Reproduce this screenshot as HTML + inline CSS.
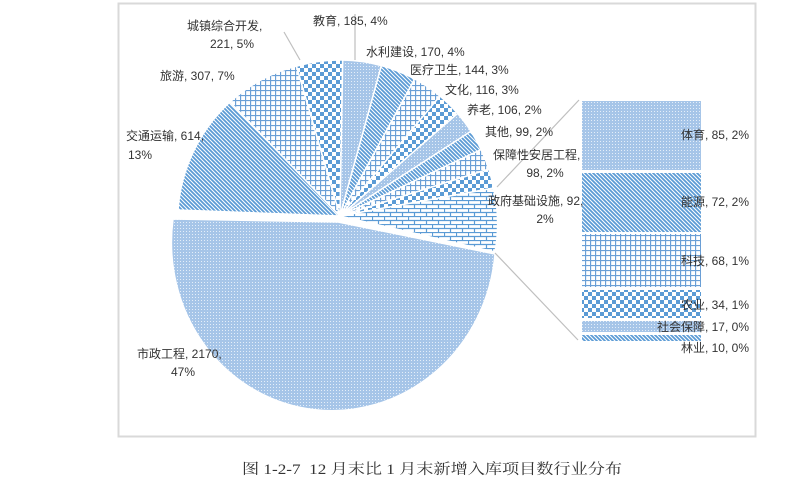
<!DOCTYPE html>
<html><head><meta charset="utf-8"><style>
html,body{margin:0;padding:0;background:#fff;}
svg{display:block;}
text{font-family:"Liberation Sans","Noto Sans CJK SC",sans-serif;font-size:12px;fill:#333;}
</style></head><body>
<svg width="803" height="488" viewBox="0 0 803 488" xmlns="http://www.w3.org/2000/svg">
<defs>
<pattern id="dots" width="3" height="3" patternUnits="userSpaceOnUse"><rect width="3" height="3" fill="#a6c5e8"/><rect width="1" height="1" fill="#e4eef9"/></pattern>
<pattern id="stripe" width="4" height="4" patternUnits="userSpaceOnUse"><rect width="4" height="4" fill="#fff"/><path d="M-1,-1 L5,5 M-1,3 L1,5 M3,-1 L5,1" stroke="#5b9bd5" stroke-width="1.8"/></pattern>
<pattern id="grid" width="5" height="5" patternUnits="userSpaceOnUse"><rect width="5" height="5" fill="#fff"/><path d="M0,0.5H5M0.5,0V5" stroke="#6a9fd6" stroke-width="1.3"/></pattern>
<pattern id="check" width="8" height="8" patternUnits="userSpaceOnUse"><rect width="8" height="8" fill="#fff"/><rect width="4" height="4" fill="#5b9bd5"/><rect x="4" y="4" width="4" height="4" fill="#5b9bd5"/></pattern>
<pattern id="brick" width="12" height="8" patternUnits="userSpaceOnUse"><rect width="12" height="8" fill="#fff"/><path d="M0,0.5H12M0,4.5H12M0.5,0V4M6.5,4V8" stroke="#5b9bd5" stroke-width="1.2"/></pattern>
</defs>
<rect x="118.5" y="3.5" width="637" height="433" fill="#fff" stroke="#d9d9d9" stroke-width="2"/>
<g stroke="#fff" stroke-width="1.5">
<path d="M338,222 L495,254 A162,170 6 1 1 173,219 Z" fill="url(#dots)"/>
<path d="M340,216 L178,210 A162,162 0 0 1 230,102 Z" fill="url(#stripe)"/>
<path d="M340,216 L230,102 A156,156 0 0 1 296.5,66.2 Z" fill="url(#grid)"/>
<path d="M340,216 L296.5,66.2 A156,156 0 0 1 342.7,60 Z" fill="url(#check)"/>
<path d="M340,216 L342.7,60 A156,156 0 0 1 381.4,65.6 Z" fill="url(#dots)"/>
<path d="M340,216 L381.4,65.6 A156,156 0 0 1 414.7,79 Z" fill="url(#stripe)"/>
<path d="M340,216 L414.7,79 A156,156 0 0 1 439.9,96.1 Z" fill="url(#grid)"/>
<path d="M340,216 L439.9,96.1 A156,156 0 0 1 457.6,113.4 Z" fill="url(#check)"/>
<path d="M340,216 L457.6,113.4 A156,156 0 0 1 471,131.3 Z" fill="url(#dots)"/>
<path d="M340,216 L471,131.3 A156,156 0 0 1 481.1,149.6 Z" fill="url(#stripe)"/>
<path d="M340,216 L481.1,149.6 A156,156 0 0 1 488.8,169.1 Z" fill="url(#grid)"/>
<path d="M340,216 L488.8,169.1 A156,156 0 0 1 493.5,188.1 Z" fill="url(#check)"/>
<path d="M340,216 L493.5,188.1 A156,156 0 0 1 495,252 Z" fill="url(#brick)"/>
</g>
<g stroke="#bfbfbf" stroke-width="1.2">
<line x1="497" y1="187" x2="579" y2="100"/>
<line x1="495" y1="253" x2="578" y2="340"/>
<line x1="284" y1="32" x2="300" y2="60"/>
<line x1="355" y1="14" x2="355" y2="60"/>
</g>
<rect x="582" y="101" width="119" height="69" fill="url(#dots)"/>
<rect x="582" y="173" width="119" height="59" fill="url(#stripe)"/>
<rect x="582" y="234" width="119" height="53" fill="url(#grid)"/>
<rect x="582" y="290" width="119" height="28" fill="url(#check)"/>
<rect x="582" y="321" width="119" height="11" fill="url(#dots)"/>
<rect x="582" y="335" width="119" height="6" fill="url(#stripe)"/>
<g text-anchor="end">
<text x="749" y="139">体育, 85, 2%</text>
<text x="749" y="206">能源, 72, 2%</text>
<text x="749" y="265">科技, 68, 1%</text>
<text x="749" y="309">农业, 34, 1%</text>
<text x="749" y="331">社会保障, 17, 0%</text>
<text x="749" y="352">林业, 10, 0%</text>
</g>
<text x="187" y="30">城镇综合开发,</text>
<text x="232" y="48" text-anchor="middle">221, 5%</text>
<text x="313" y="25">教育, 185, 4%</text>
<text x="366" y="56">水利建设, 170, 4%</text>
<text x="410" y="74">医疗卫生, 144, 3%</text>
<text x="445" y="94">文化, 116, 3%</text>
<text x="467" y="114">养老, 106, 2%</text>
<text x="485" y="136">其他, 99, 2%</text>
<text x="493" y="159">保障性安居工程,</text>
<text x="545" y="177" text-anchor="middle">98, 2%</text>
<text x="488" y="205">政府基础设施, 92,</text>
<text x="545" y="223" text-anchor="middle">2%</text>
<text x="160" y="80">旅游, 307, 7%</text>
<text x="126" y="140">交通运输, 614,</text>
<text x="128" y="159">13%</text>
<text x="137" y="358">市政工程, 2170,</text>
<text x="183" y="376" text-anchor="middle">47%</text>
<text x="242" y="474" textLength="380" lengthAdjust="spacingAndGlyphs" xml:space="preserve" style="white-space:pre;font-family:'Liberation Serif','Noto Serif CJK SC',serif;font-size:14.5px;fill:#333;">图 1-2-7  12 月末比 1 月末新增入库项目数行业分布</text>
</svg>
</body></html>
